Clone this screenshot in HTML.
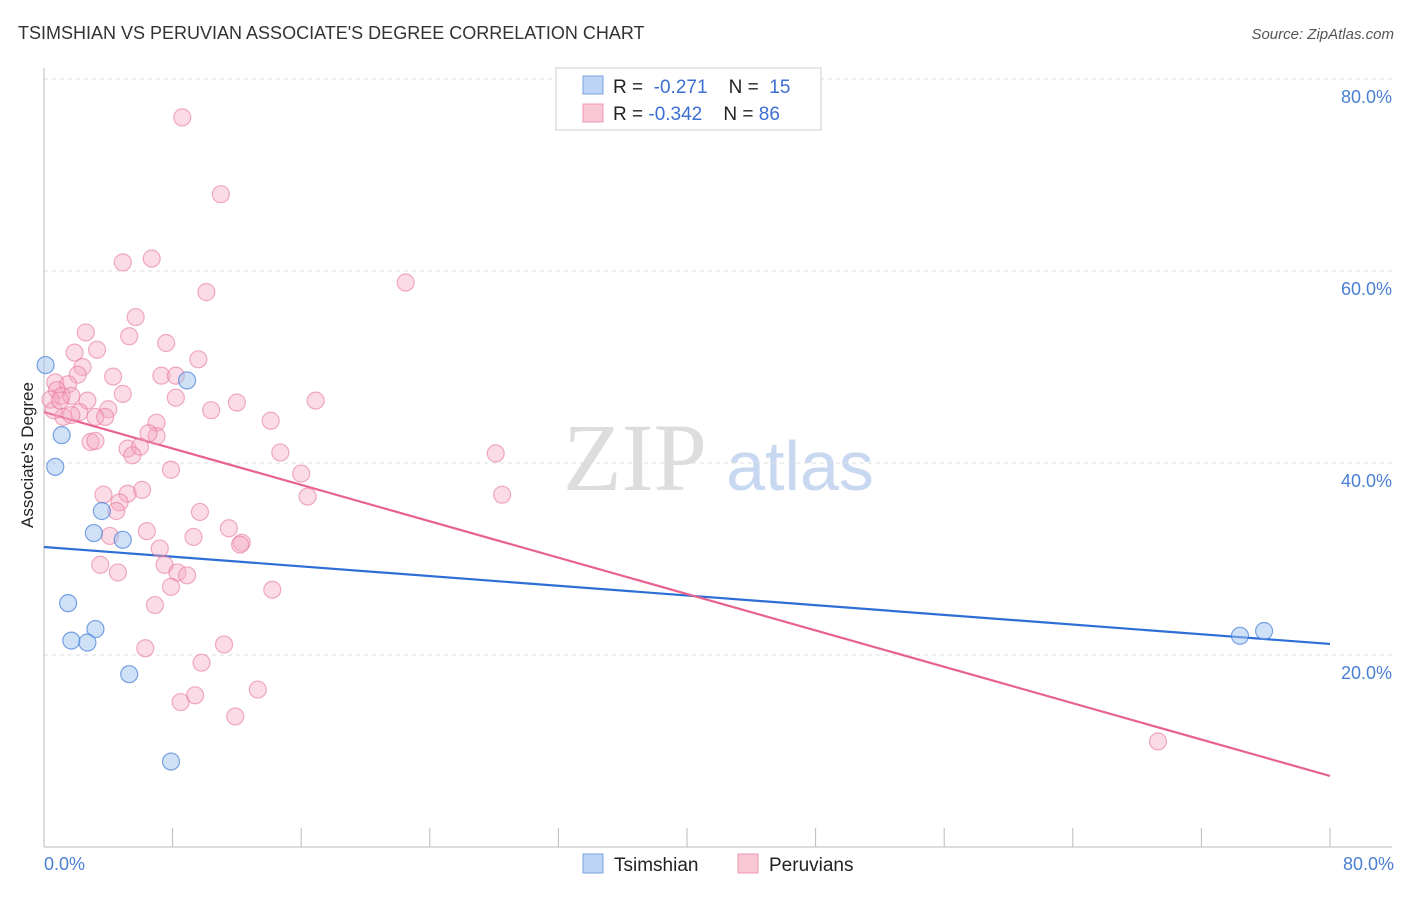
<!DOCTYPE html>
<html><head><meta charset="utf-8"><style>
body{margin:0;background:#fff;font-family:"Liberation Sans",sans-serif}
</style></head><body>
<svg width="1406" height="892" xmlns="http://www.w3.org/2000/svg" id="chart" font-family="Liberation Sans, sans-serif">
<text x="18" y="39" font-size="18" fill="#333">TSIMSHIAN VS PERUVIAN ASSOCIATE'S DEGREE CORRELATION CHART</text>
<text x="1394" y="39" font-size="15" fill="#555" font-style="italic" text-anchor="end">Source: ZipAtlas.com</text>
<text x="33" y="455" font-size="17" fill="#222" text-anchor="middle" transform="rotate(-90 33 455)">Associate's Degree</text>
<g><text x="635" y="490" font-size="96" fill="#ddd" font-family="Liberation Serif, serif" text-anchor="middle">ZIP</text><text x="800" y="490" font-size="70" fill="#c8d8f0" text-anchor="middle">atlas</text></g>
<g id="grid"></g><g id="axes"></g><g id="lines"></g><g id="pts"></g>
<g>
<rect x="556" y="68" width="265" height="62" fill="#fff" stroke="#ccc"/>
<rect x="583" y="76" width="20" height="18" fill="#bcd4f6" stroke="#7aa3e0"/>
<rect x="583" y="104" width="20" height="18" fill="#f9c6d4" stroke="#ee9ab2"/>
<text x="613" y="93" font-size="19" fill="#222">R = <tspan fill="#3b6fd1">&#160;-0.271</tspan>&#160;&#160;&#160;&#160;N = <tspan fill="#3b6fd1">&#160;15</tspan></text>
<text x="613" y="120" font-size="19" fill="#222">R = <tspan fill="#3b6fd1">-0.342</tspan>&#160;&#160;&#160;&#160;N = <tspan fill="#3b6fd1">86</tspan></text>
</g>
<g>
<rect x="583" y="854" width="20" height="19" fill="#bcd4f6" stroke="#7aa3e0"/>
<text x="614" y="871" font-size="19" fill="#222">Tsimshian</text>
<rect x="738" y="854" width="20" height="19" fill="#f9c6d4" stroke="#ee9ab2"/>
<text x="769" y="871" font-size="19" fill="#222">Peruvians</text>
</g>
</svg>
<script>
const blueX=[0.1,8.9,1.1,0.7,3.6,3.1,4.9,1.5,3.2,1.7,2.7,5.3,7.9,74.4,75.9];
const blueY=[50.2,48.6,42.9,39.6,35.0,32.7,32.0,25.4,22.7,21.5,21.3,18.0,8.9,22.0,22.5];
const pinkX=[8.6,11.0,4.9,6.7,10.1,22.5,5.7,2.6,5.3,7.6,1.9,3.3,9.6,2.4,4.3,7.3,8.2,2.1,0.7,1.5,0.8,1.1,0.4,2.7,1.7,4.9,8.2,12.0,10.4,16.9,4.0,2.2,3.2,3.8,1.2,1.7,7.0,14.1,2.9,7.0,6.5,3.2,5.2,5.97,14.7,5.5,28.1,7.9,16.0,28.5,16.4,3.7,6.1,5.2,4.7,4.5,9.7,6.4,11.5,4.1,9.3,7.2,12.3,12.2,3.5,7.5,4.6,8.3,8.9,7.9,14.2,6.9,6.3,11.2,9.8,8.5,9.4,13.3,11.9,69.3,0.6,1.0];
const pinkY=[76.0,68.0,60.9,61.3,57.8,58.8,55.2,53.6,53.2,52.5,51.5,51.8,50.8,50.0,49.0,49.1,49.1,49.2,48.4,48.2,47.6,47.0,46.6,46.5,47.0,47.2,46.8,46.3,45.5,46.5,45.6,45.3,44.8,44.8,44.8,45.0,44.2,44.4,42.2,42.8,43.1,42.3,41.5,41.7,41.1,40.8,41.0,39.3,38.9,36.7,36.5,36.7,37.2,36.8,35.9,35.0,34.9,32.9,33.2,32.4,32.3,31.1,31.7,31.5,29.4,29.4,28.6,28.6,28.3,27.1,26.8,25.2,20.7,21.1,19.2,15.1,15.8,16.4,13.6,11.0,45.5,46.5];
const blueLine=[31.25,21.15];
const pinkLine=[45.3,7.4];
const yTicks=[20,40,60,80];
const xTickLabels=["0.0%","80.0%"];
const NS="http://www.w3.org/2000/svg";
const X0=44,X1=1330,Y0=847,Y80=79;
const sx=v=>X0+(X1-X0)*v/80, sy=v=>Y0-(Y0-Y80)*v/80;
function mk(parent,tag,attrs){const e=document.createElementNS(NS,tag);for(const k in attrs)e.setAttribute(k,attrs[k]);document.getElementById(parent).appendChild(e);return e;}
yTicks.forEach(t=>{
 const l=mk('grid','line',{x1:X0,x2:1392,y1:sy(t),y2:sy(t),stroke:'#ddd','stroke-dasharray':'4,4'});
 
 
 const tx=mk('grid','text',{x:1392,y:sy(t)+24,'font-size':18,fill:'#4a7fd4','text-anchor':'end'});
 tx.textContent=t.toFixed(1)+'%';
 
 
});
const ax=mk('axes','line',{x1:X0,x2:X0,y1:68,y2:Y0,stroke:'#bbb'});


const xa=mk('axes','line',{x1:X0,x2:1392,y1:Y0,y2:Y0,stroke:'#bbb'});


for(let i=0;i<=10;i++){const v=i*8;const t=mk('axes','line',{x1:sx(v),x2:sx(v),y1:828,y2:Y0,stroke:'#bbb'});
 
 }
[[0,'start'],[80,'end']].forEach((a,i)=>{const t=mk('axes','text',{x:i?1394:44,y:870,'font-size':18,fill:'#4a7fd4','text-anchor':a[1]});t.textContent=xTickLabels[i];
 
 });
function trend(arr,c,n){const l=mk('lines','line',{x1:sx(0),y1:sy(arr[0]),x2:sx(80),y2:sy(arr[1]),stroke:c,'stroke-width':2.2});
 
 }
trend(blueLine,'#2d6fd6','tsimshian-trendline');
trend(pinkLine,'#e8628e','peruvians-trendline');
pinkX.forEach((x,i)=>{const c=mk('pts','circle',{cx:sx(x),cy:sy(pinkY[i]),r:8.5,fill:'rgba(246,168,192,0.4)',stroke:'rgba(232,120,155,0.6)','stroke-width':1.2});
 
 });
blueX.forEach((x,i)=>{const c=mk('pts','circle',{cx:sx(x),cy:sy(blueY[i]),r:8.5,fill:'rgba(160,195,240,0.5)',stroke:'rgba(70,125,215,0.7)','stroke-width':1.2});
 
 });
</script>
</body></html>
